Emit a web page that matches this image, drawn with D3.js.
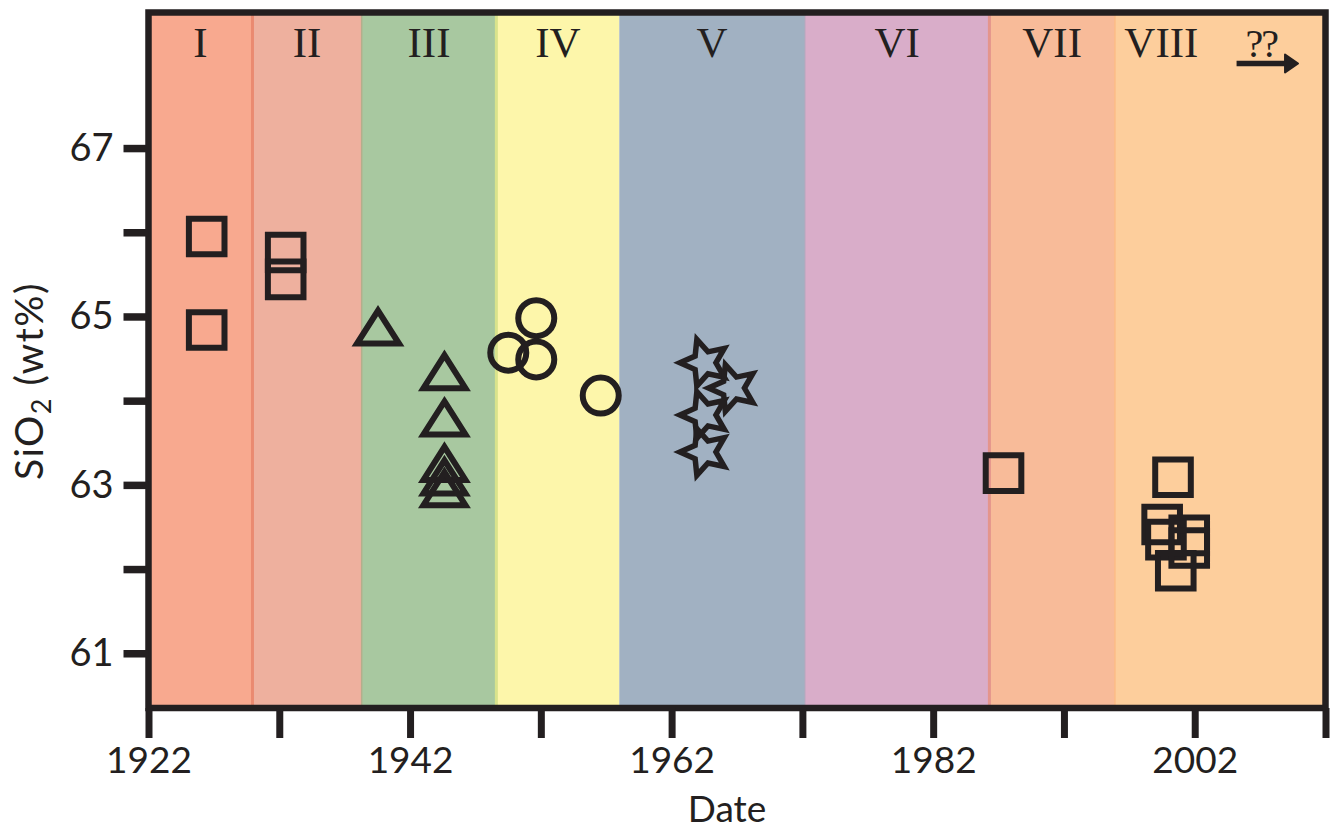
<!DOCTYPE html>
<html>
<head>
<meta charset="utf-8">
<script src="https://cdn.jsdelivr.net/npm/d3@7"></script>
<style>
  html, body { margin: 0; padding: 0; background: #ffffff; }
  svg { display: block; }
</style>
</head>
<body>
<svg id="chart" width="1335" height="831"></svg>
<script>
// Eruptive periods of dome growth
const periodNames  = ["I", "II", "III", "IV", "V", "VI", "VII", "VIII"];
const periodStart  = [1922, 1929.95, 1938.3, 1948.6, 1958.0, 1972.2, 1986.3, 1995.9];
const periodEnd    = [1929.95, 1938.3, 1948.6, 1958.0, 1972.2, 1986.3, 1995.9, 2012];
const periodColors = ["#f8a98f", "#eeb09e", "#a8c8a0", "#fdf6aa", "#a1b1c2", "#d9adc9", "#f8bb99", "#fdce9c"];
// Divider colours drawn on the left edge of each period after the first
const dividerColors = [null, "#ea8a70", "#b4ae8c", "#d9e38c", null, "#b7a7bd", "#e4958c", "#fcbb86"];
const dividerWidths = [0, 3, 1.5, 3, 0, 1, 3, 1.5];

// SiO2 (wt%) analyses by eruption date
const squareYears  = [1926.45, 1926.45, 1932.49, 1932.49, 1987.38, 2000.34, 1999.51, 1999.8, 2001.58, 2001.58, 2000.55];
const squareSiO2   = [65.95, 64.84, 65.76, 65.44, 63.14, 63.09, 62.53, 62.35, 62.40, 62.25, 61.98];
const triangleYears = [1939.55, 1944.63, 1944.63, 1944.63, 1944.63, 1944.63];
const triangleSiO2  = [64.89, 64.36, 63.81, 63.27, 63.11, 62.97];
const circleYears  = [1951.65, 1949.51, 1951.65, 1956.58];
const circleSiO2   = [64.98, 64.57, 64.49, 64.06];
const starYears    = [1964.51, 1966.69, 1964.51, 1964.51];
const starSiO2     = [64.45, 64.15, 63.83, 63.39];

// Axis ticks
const xTicks = [1922, 1932, 1942, 1952, 1962, 1972, 1982, 1992, 2002, 2012];
const xTickLabels = [1922, 1942, 1962, 1982, 2002];
const yTicks = [61, 62, 63, 64, 65, 66, 67];
const yTickLabels = [61, 63, 65, 67];

const ink = "#231f20";
const svg = d3.select("#chart");

const plotLeft = 148.5, plotRight = 1325.5, plotTop = 12.5, plotBottom = 708;
const x = d3.scaleLinear().domain([1922, 2012]).range([plotLeft, plotRight]);
const y = d3.scaleLinear().domain([60.35, 68.61]).range([plotBottom, plotTop]);

// Coloured period bands
const bands = periodNames.map((name, i) => ({
  name, start: periodStart[i], end: periodEnd[i], color: periodColors[i],
  divider: dividerColors[i], dividerWidth: dividerWidths[i]
}));

svg.append("g").selectAll("rect")
  .data(bands)
  .join("rect")
  .attr("x", d => x(d.start))
  .attr("y", plotTop)
  .attr("width", d => x(d.end) - x(d.start))
  .attr("height", plotBottom - plotTop)
  .attr("fill", d => d.color);

svg.append("g").selectAll("line")
  .data(bands.filter(d => d.divider))
  .join("line")
  .attr("x1", d => x(d.start)).attr("x2", d => x(d.start))
  .attr("y1", plotTop).attr("y2", plotBottom)
  .attr("stroke", d => d.divider)
  .attr("stroke-width", d => d.dividerWidth);

// Period labels (period VIII label sits left of its band centre, next to the "??" marker)
const labelYear = d => d.name === "VIII" ? 1999.45 : (d.start + d.end) / 2;
svg.append("g").selectAll("text")
  .data(bands)
  .join("text")
  .attr("x", d => x(labelYear(d)))
  .attr("y", 57)
  .attr("text-anchor", "middle")
  .attr("font-family", "'Liberation Serif', 'Times New Roman', serif")
  .attr("font-size", 43)
  .attr("fill", ink)
  .text(d => d.name);

// Ongoing activity: "??" with arrow
const futureFrom = 2005.2, futureTo = 2009.9;
svg.append("text")
  .attr("x", x((futureFrom + futureTo) / 2) - 6)
  .attr("y", 57)
  .attr("text-anchor", "middle")
  .attr("font-family", "'Liberation Serif', 'Times New Roman', serif")
  .attr("font-size", 40)
  .attr("letter-spacing", -2)
  .attr("fill", ink)
  .text("??");
svg.append("line")
  .attr("x1", x(futureFrom)).attr("x2", x(futureTo) - 10)
  .attr("y1", 63.5).attr("y2", 63.5)
  .attr("stroke", ink).attr("stroke-width", 5.5);
svg.append("path")
  .attr("d", `M${x(futureTo) - 13},${63.5 - 9} L${x(futureTo)},${63.5} L${x(futureTo) - 13},${63.5 + 9} Z`)
  .attr("fill", ink)
  .attr("stroke", ink)
  .attr("stroke-width", 2)
  .attr("stroke-linejoin", "round");

// Marker shapes
const squarePath = (() => { const h = 17.8; return `M${-h},${-h}H${h}V${h}H${-h}Z`; })();
const trianglePath = "M0,-15.2L21,17.8L-21,17.8Z";
const starPath = (() => {
  const R = 24.5, r = 11.5, pts = [];
  for (let k = 0; k < 10; k++) {
    const a = Math.PI + k * Math.PI / 5;
    const rad = k % 2 === 0 ? R : r;
    pts.push([rad * Math.cos(a), rad * Math.sin(a)]);
  }
  return "M" + pts.map(p => p[0].toFixed(2) + "," + p[1].toFixed(2)).join("L") + "Z";
})();

const markers = svg.append("g")
  .attr("fill", "none")
  .attr("stroke", ink)
  .attr("stroke-linejoin", "miter");

function plotSeries(years, values, pathD, width) {
  markers.append("g")
    .attr("stroke-width", width)
    .selectAll("path")
    .data(years.map((yr, i) => ({ yr, v: values[i] })))
    .join("path")
    .attr("d", pathD)
    .attr("transform", d => `translate(${x(d.yr)},${y(d.v)})`);
}
plotSeries(squareYears, squareSiO2, squarePath, 6);
plotSeries(triangleYears, triangleSiO2, trianglePath, 6);
markers.append("g")
  .attr("stroke-width", 6)
  .selectAll("circle")
  .data(circleYears.map((yr, i) => ({ yr, v: circleSiO2[i] })))
  .join("circle")
  .attr("cx", d => x(d.yr))
  .attr("cy", d => y(d.v))
  .attr("r", 18);
plotSeries(starYears, starSiO2, starPath, 5.5);

// Frame
svg.append("rect")
  .attr("x", plotLeft).attr("y", plotTop)
  .attr("width", plotRight - plotLeft).attr("height", plotBottom - plotTop)
  .attr("fill", "none")
  .attr("stroke", ink)
  .attr("stroke-width", 6.5);

// Axes
const axisFont = "Lato, 'Open Sans', sans-serif";
const xAxis = d3.axisBottom(x)
  .tickValues(xTicks)
  .tickSize(30)
  .tickPadding(8.7)
  .tickFormat(d => xTickLabels.includes(d) ? String(d) : "");
const gx = svg.append("g").attr("transform", `translate(0,${plotBottom})`).call(xAxis);
gx.select(".domain").remove();
gx.selectAll(".tick line").attr("stroke", ink).attr("stroke-width", 7);
gx.selectAll(".tick text")
  .attr("font-family", axisFont).attr("font-size", 37).attr("fill", ink);

const yAxis = d3.axisLeft(y)
  .tickValues(yTicks)
  .tickSize(25)
  .tickPadding(10)
  .tickFormat(d => yTickLabels.includes(d) ? String(d) : "");
const gy = svg.append("g").attr("transform", `translate(${plotLeft},0)`).call(yAxis);
gy.select(".domain").remove();
gy.selectAll(".tick line").attr("stroke", ink).attr("stroke-width", 7.5);
gy.selectAll(".tick text")
  .attr("font-family", axisFont).attr("font-size", 38).attr("fill", ink);

// Axis titles
svg.append("text")
  .attr("x", 727).attr("y", 822)
  .attr("text-anchor", "middle")
  .attr("font-family", axisFont).attr("font-size", 37).attr("fill", ink)
  .text("Date");

const yTitle = svg.append("text")
  .attr("transform", "translate(43,381) rotate(-90)")
  .attr("text-anchor", "middle")
  .attr("font-family", axisFont).attr("font-size", 39).attr("letter-spacing", 1.5).attr("fill", ink);
yTitle.append("tspan").text("SiO");
yTitle.append("tspan").attr("font-size", 27).attr("dy", 8).text("2");
yTitle.append("tspan").attr("dy", -8).text(" (wt%)");
</script>
</body>
</html>
